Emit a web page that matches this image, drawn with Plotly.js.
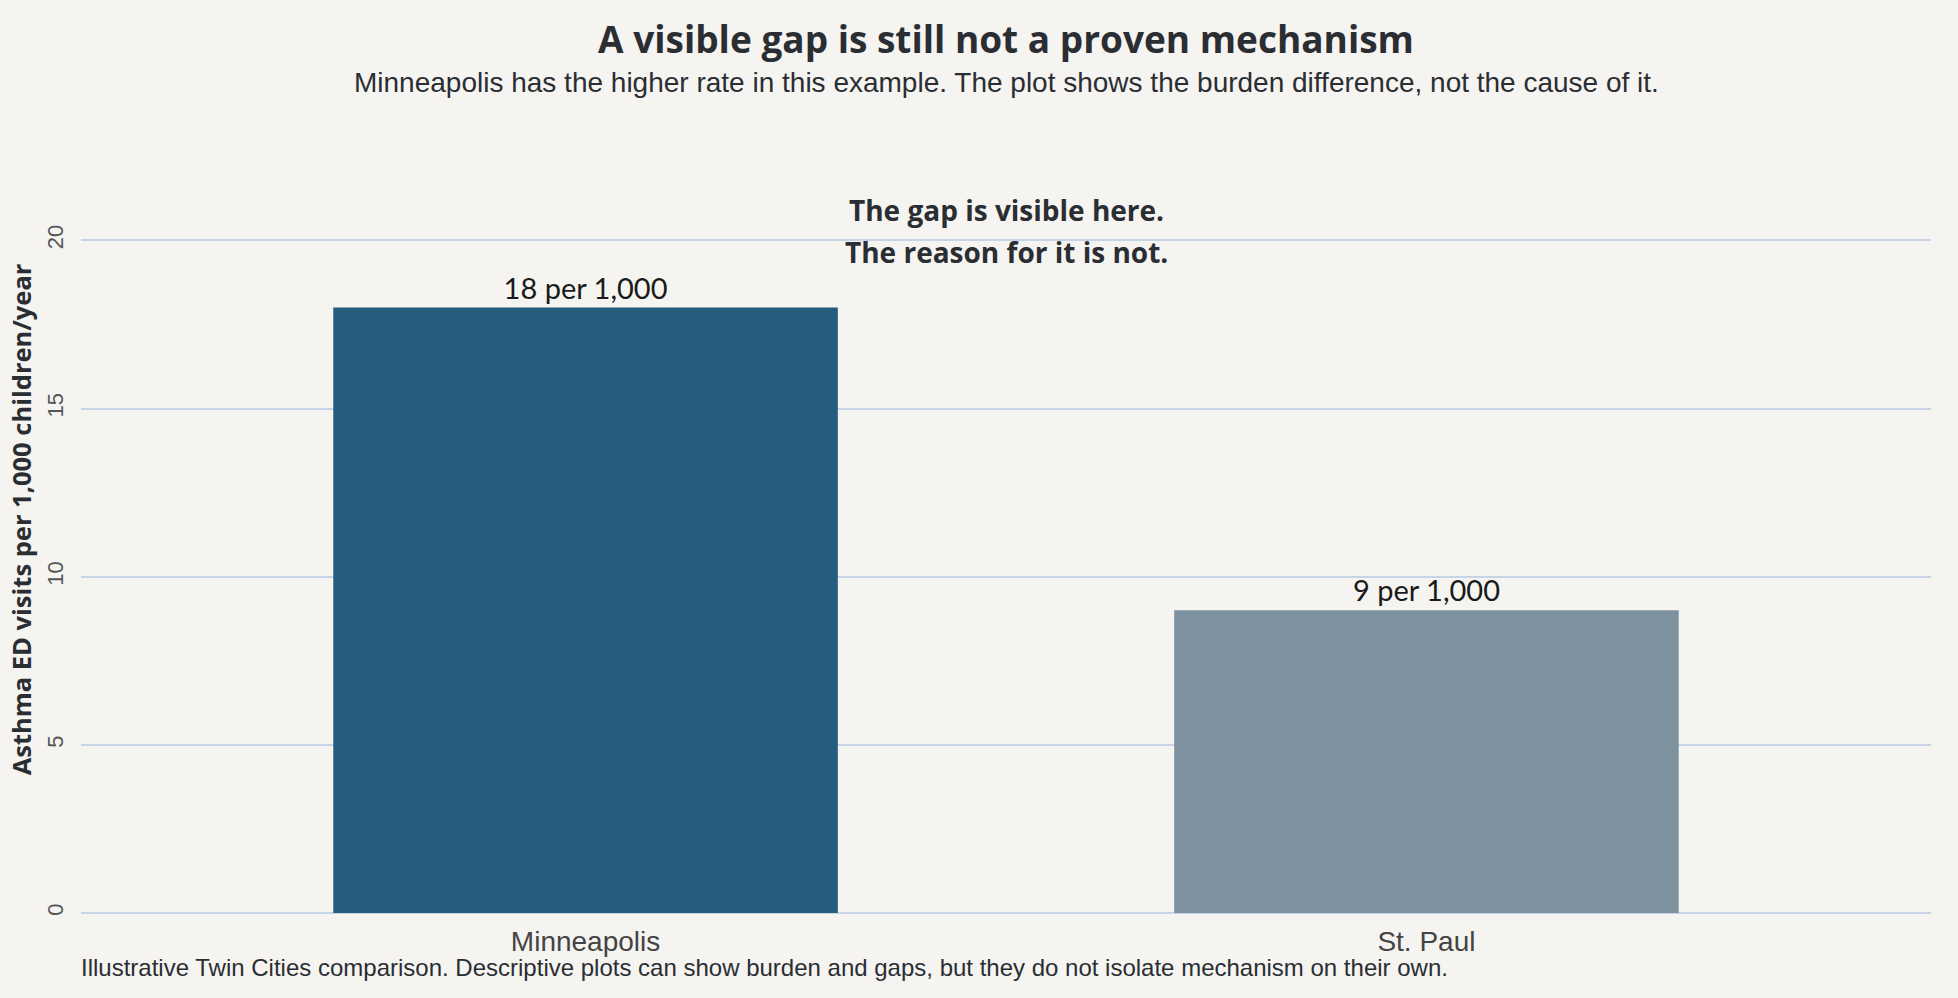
<!DOCTYPE html>
<html>
<head>
<meta charset="utf-8">
<script src="https://cdn.plot.ly/plotly-3.0.1.min.js"></script>
<style>
  html, body { margin: 0; padding: 0; background: #f5f4f0; }
  #chart { width: 1958px; height: 998px; }
</style>
</head>
<body>
<div id="chart"></div>
<script>
// ---- Data ----
const cities = ["Minneapolis", "St. Paul"];
const rates = [18, 9];
const barColors = ["#265d7e", "#7d919f"];
const valueLabels = rates.map(v => v + " per 1,000");
const yTicks = [0, 5, 10, 15, 20];

const titleText = "A visible gap is still not a proven mechanism";
const subtitleText = "Minneapolis has the higher rate in this example. The plot shows the burden difference, not the cause of it.";
const calloutLines = ["The gap is visible here.", "The reason for it is not."];
const calloutY = [20.89, 19.64];
const captionText = "Illustrative Twin Cities comparison. Descriptive plots can show burden and gaps, but they do not isolate mechanism on their own.";
const yTitleText = "Asthma ED visits per 1,000 children/year";

const headFont = "'Trebuchet MS', 'Open Sans', sans-serif";
const bodyFont = "Arial, 'Liberation Sans', sans-serif";
const labelFont = "'Avenir Next', Avenir, Lato, sans-serif";
const ink = "#2a2e33";
const grid = "#c6d4e6";

const maxRate = Math.max(...rates);

const trace = {
  type: "bar",
  x: cities,
  y: rates,
  width: 0.6,
  marker: { color: barColors },
  text: valueLabels,
  textposition: "outside",
  textfont: { family: labelFont, size: 29, color: "#1a1a1a" },
  cliponaxis: false,
  hoverinfo: "skip"
};

const annotations = [
  {
    text: subtitleText,
    xref: "paper", yref: "paper",
    x: 0.5, y: 1 + (126 - 82) / 787,
    xanchor: "center", yanchor: "middle",
    showarrow: false,
    font: { family: bodyFont, size: 28, color: ink }
  },
  {
    text: captionText,
    xref: "paper", yref: "paper",
    x: 0, y: -(968 - 913) / 787,
    xanchor: "left", yanchor: "middle",
    xshift: -2,
    showarrow: false,
    font: { family: bodyFont, size: 24, color: ink }
  }
];
calloutLines.forEach((line, i) => {
  annotations.push({
    text: "<b>" + line + "</b>",
    xref: "x", yref: "y",
    x: 0.5, y: calloutY[i],
    xanchor: "center", yanchor: "middle",
    showarrow: false,
    font: { family: headFont, size: 28, color: ink }
  });
});

const layout = {
  width: 1958,
  height: 998,
  paper_bgcolor: "#f5f4f0",
  plot_bgcolor: "#f5f4f0",
  margin: { l: 81, r: 27, t: 126, b: 85 },
  showlegend: false,
  title: {
    text: "<b>" + titleText + "</b>",
    font: { family: headFont, size: 37, color: ink },
    x: 0.5, xref: "paper", xanchor: "center",
    y: 1 - 40 / 998, yref: "container", yanchor: "middle"
  },
  xaxis: {
    type: "category",
    range: [-0.6, 1.6],
    showgrid: false,
    zeroline: false,
    showline: false,
    ticks: "",
    ticklabelstandoff: 9,
    tickfont: { family: bodyFont, size: 28, color: "#444444" }
  },
  yaxis: {
    range: [0, maxRate * 1.3],
    tickvals: yTicks,
    tickangle: -90,
    ticklabelstandoff: 13,
    tickfont: { family: bodyFont, size: 22, color: "#555555" },
    showgrid: true,
    gridcolor: grid,
    gridwidth: 2,
    zeroline: true,
    zerolinecolor: grid,
    zerolinewidth: 2,
    showline: false,
    ticks: "",
    title: {
      text: "<b>" + yTitleText + "</b>",
      font: { family: headFont, size: 25.5, color: ink },
      standoff: 3
    }
  },
  annotations: annotations
};

Plotly.newPlot("chart", [trace], layout, { displayModeBar: false, staticPlot: true });
</script>
</body>
</html>
